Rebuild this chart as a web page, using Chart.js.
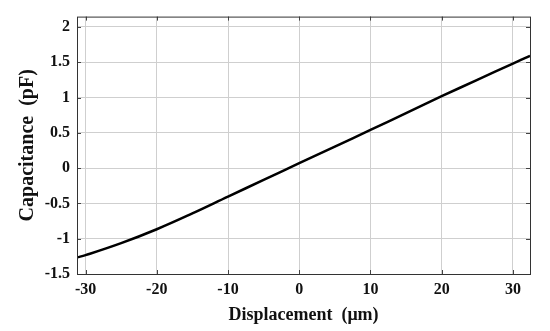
<!DOCTYPE html>
<html>
<head>
<meta charset="utf-8">
<script src="https://cdn.jsdelivr.net/npm/chart.js@4"></script>
<style>
html,body{margin:0;padding:0;background:#fff;}
#wrap{width:550px;height:331px;position:relative;}
</style>
</head>
<body>
<div id="wrap"><canvas id="c" width="550" height="331"></canvas></div>
<script>
const displacement = [-31.2, -30, -25, -20, -15, -10, -5, 0, 5, 10, 15, 20, 25, 30, 32.4];
const capacitance = [-1.265, -1.233, -1.063, -0.866, -0.642, -0.404, -0.167, 0.069, 0.304, 0.54, 0.779, 1.018, 1.25, 1.48, 1.59];
const xTicks = [-30, -20, -10, 0, 10, 20, 30];
const yTicks = [-1.5, -1, -0.5, 0, 0.5, 1, 1.5, 2];

const serif = "'Liberation Serif', 'Times New Roman', serif";
const xTickFont = {family: serif, size: 16, weight: 'bold'};
const yTickFont = {family: serif, size: 16, weight: 'bold'};
const xTitleFont = {family: serif, size: 18, weight: 'bold'};
const yTitleFont = {family: serif, size: 20, weight: 'bold'};

const innerTicks = {
  id: 'innerTicks',
  afterDraw(chart) {
    const {ctx, chartArea: a, scales} = chart;
    ctx.save();
    ctx.strokeStyle = '#444';
    ctx.lineWidth = 1;
    const L = 4;
    ctx.beginPath();
    scales.x.ticks.forEach(t => {
      const px = Math.round(scales.x.getPixelForValue(t.value)) + 0.5;
      ctx.moveTo(px, a.top); ctx.lineTo(px, a.top + L);
      ctx.moveTo(px, a.bottom); ctx.lineTo(px, a.bottom - L);
    });
    scales.y.ticks.forEach(t => {
      const py = Math.round(scales.y.getPixelForValue(t.value)) + 0.5;
      ctx.moveTo(a.left, py); ctx.lineTo(a.left + L, py);
      ctx.moveTo(a.right, py); ctx.lineTo(a.right - L, py);
    });
    ctx.stroke();
    ctx.strokeStyle = '#333';
    ctx.strokeRect(a.left + 0.5, a.top + 0.5, a.right - a.left, a.bottom - a.top);
    ctx.restore();
  }
};

new Chart(document.getElementById('c'), {
  type: 'line',
  data: {
    datasets: [{
      data: displacement.map((x, i) => ({x: x, y: capacitance[i]})),
      borderColor: '#000',
      borderWidth: 2.5,
      pointRadius: 0,
      tension: 0.4,
      fill: false
    }]
  },
  options: {
    responsive: false,
    animation: false,
    devicePixelRatio: 1,
    layout: {padding: {top: 10, right: 20, left: 16, bottom: 0}},
    plugins: {legend: {display: false}, tooltip: {enabled: false}},
    scales: {
      x: {
        type: 'linear',
        min: -31.2,
        max: 32.4,
        afterBuildTicks: s => { s.ticks = xTicks.map(v => ({value: v})); },
        afterFit: s => { s.height = 57; },
        grid: {color: '#cfcfcf', lineWidth: 1, drawTicks: false},
        border: {display: false},
        ticks: {color: '#111', font: xTickFont, padding: 6, maxRotation: 0, callback: v => String(v)},
        title: {display: true, text: 'Displacement  (μm)', color: '#111', font: xTitleFont, padding: {top: 2, bottom: 5}}
      },
      y: {
        type: 'linear',
        min: -1.5,
        max: 2.146,
        afterBuildTicks: s => { s.ticks = yTicks.map(v => ({value: v})); },
        afterFit: s => { s.width = 61; },
        grid: {color: '#cfcfcf', lineWidth: 1, drawTicks: false},
        border: {display: false},
        ticks: {color: '#111', font: yTickFont, padding: 7, callback: v => String(v)},
        title: {display: true, text: 'Capacitance  (pF)', color: '#111', font: yTitleFont, padding: {top: 0, bottom: 2}}
      }
    }
  },
  plugins: [innerTicks]
});
</script>
</body>
</html>
